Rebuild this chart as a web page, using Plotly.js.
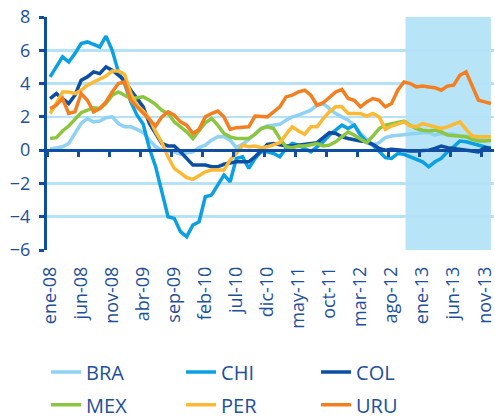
<!DOCTYPE html>
<html>
<head>
<meta charset="utf-8">
<script src="https://cdn.plot.ly/plotly-3.0.1.min.js"></script>
<style>
  html, body { margin: 0; padding: 0; background: #ffffff; }
  #chart { width: 495px; height: 419px; }
</style>
</head>
<body>
<div id="chart"></div>
<script>
// ---- Data ----
const monthNames = ['ene','feb','mar','abr','may','jun','jul','ago','sep','oct','nov','dic'];
const years = ['08','09','10','11','12','13'];
const months = years.flatMap(y => monthNames.map(m => m + '-' + y));

const tickLabels = ['ene-08','jun-08','nov-08','abr-09','sep-09','feb-10','jul-10','dic-10',
                    'may-11','oct-11','mar-12','ago-12','ene-13','jun-13','nov-13'];

const BRA = [0.05,0.1,0.2,0.4,1.0,1.6,1.9,1.7,1.75,1.95,2.0,1.6,1.4,1.4,1.25,1.05,0.6,0.2,0.0,-0.05,
             -0.1,-0.25,-0.2,-0.1,0.15,0.3,0.6,0.8,0.8,0.6,0.15,
             0.35,0.65,1.0,1.3,1.45,1.5,1.55,1.8,2.0,2.1,2.25,2.4,2.7,2.8,2.5,2.2,2.0,1.8,1.5,1.0,
             0.65,0.3,0.45,0.75,0.85,0.9,0.95,1.0,1.0,1.05,1.05,0.9,1.0,1.0,0.95,0.85,0.85,0.8,0.65,0.6,0.55];
const CHI = [4.4,5.0,5.6,5.3,5.8,6.4,6.5,6.35,6.2,6.85,6.0,4.7,4.0,2.9,2.1,1.55,0.1,-1.0,-2.4,-4.0,
             -4.1,-4.9,-5.2,-4.5,-4.3,-2.8,-2.7,-2.1,-1.5,-1.9,-0.5,-0.4,-1.1,
             -0.5,-0.1,-0.1,-0.2,-0.4,0.1,0.4,0.3,0.1,-0.1,0.2,0.5,0.9,1.2,1.5,1.3,1.5,0.9,0.5,0.3,
             -0.1,-0.45,-0.5,-0.2,-0.25,-0.4,-0.5,-0.7,-1.0,-0.7,-0.5,-0.1,0.2,0.55,0.5,0.4,0.25,0.15,0.1];
const COL = [3.1,3.4,3.1,2.8,3.3,4.2,4.4,4.7,4.6,5.0,4.8,4.5,4.2,3.6,3.1,2.6,1.6,1.0,0.4,0.25,
             0.25,-0.1,-0.5,-0.9,-0.9,-0.9,-1.0,-1.0,-0.85,-0.75,-0.7,
             -0.7,-0.7,-0.4,0.0,0.35,0.4,0.3,0.25,0.25,0.3,0.35,0.4,0.45,0.75,1.05,1.0,0.8,0.7,0.6,0.55,
             0.5,0.35,0.1,0.0,0.05,0.0,-0.05,-0.05,-0.05,-0.05,0.0,0.1,0.25,0.15,0.1,0.05,0.0,-0.1,-0.1,0.15,0.1];
const MEX = [0.7,0.75,1.15,1.45,1.85,2.25,2.4,2.55,2.5,2.8,3.3,3.5,3.3,3.1,3.15,3.2,3.0,2.75,2.4,2.2,
             1.7,1.4,1.1,0.7,1.15,1.65,1.9,1.5,1.0,0.8,0.7,
             0.7,0.7,0.95,1.3,1.4,1.3,0.7,0.2,0.15,0.25,0.25,0.35,0.4,0.25,0.3,0.5,0.8,1.1,0.9,0.7,
             0.45,0.85,1.3,1.5,1.6,1.7,1.75,1.5,1.3,1.2,1.15,1.2,1.1,0.9,0.85,0.85,0.8,0.65,0.55,0.55,0.6];
const PER = [2.2,2.8,3.5,3.5,3.4,3.6,3.9,4.1,4.25,4.45,4.75,4.75,4.55,3.4,2.7,2.35,1.9,1.1,0.45,-0.4,
             -1.1,-1.4,-1.65,-1.75,-1.55,-1.3,-1.2,-1.2,-1.2,-0.6,-0.2,
             0.3,0.2,0.25,0.15,0.2,0.3,0.45,0.95,1.4,1.15,0.95,1.4,1.4,1.9,2.3,2.6,2.6,2.2,2.2,2.2,
             2.05,2.2,2.0,1.25,1.45,1.6,1.7,1.45,1.4,1.6,1.5,1.35,1.3,1.4,1.55,1.7,1.25,0.85,0.8,0.8,0.8];
const URU = [2.5,2.7,3.1,2.2,2.3,3.4,3.0,2.3,2.5,2.9,3.5,4.0,4.1,3.0,2.6,2.2,1.8,1.45,2.0,2.3,
             2.1,1.7,1.5,1.0,1.25,2.0,2.2,2.35,2.0,1.25,1.35,
             1.35,1.4,2.05,2.0,2.0,2.3,2.6,3.2,3.3,3.5,3.6,3.3,2.7,2.85,3.2,3.5,3.65,3.1,3.0,2.6,
             2.9,3.1,3.0,2.6,2.8,3.6,4.1,4.0,3.8,3.85,3.8,3.75,3.6,3.85,3.9,4.5,4.7,3.9,3.0,2.9,2.8];

const seriesNames = ['BRA','CHI','COL','MEX','PER','URU'];
const seriesData = [BRA, CHI, COL, MEX, PER, URU];

// ---- Styles ----
const colors = ['#8fd2f3','#0aa0e1','#0c4ea2','#8cc63f','#fdb934','#f47f20'];
const legendOf = ['legend','legend','legend','legend2','legend2','legend2'];
const textColor = '#1d4f9c';
const axisColor = '#0f4ea0';
const gridColor = '#b5e2f7';
const fontFam = '"Open Sans", "Noto Sans", sans-serif';

const traces = seriesNames.map((name, k) => ({
  type: 'scatter',
  mode: 'lines',
  name: name,
  x: months,
  y: seriesData[k],
  xaxis: 'x',
  yaxis: 'y',
  legend: legendOf[k],
  line: { color: colors[k], width: 3.5 },
  hoverinfo: 'skip'
}));

const nCat = months.length;
const xr = [-0.5, nCat - 0.5];
const boundaryTicks = tickLabels.map(l => months.indexOf(l) - 0.5);
const yMin = -6, yMax = 8;

const legendCommon = {
  orientation: 'h',
  xref: 'container', yref: 'container',
  x: 0.093,
  xanchor: 'left', yanchor: 'middle',
  entrywidth: 90, entrywidthmode: 'pixels',
  font: { size: 20, color: textColor, family: fontFam },
  bgcolor: 'rgba(0,0,0,0)'
};

const layout = {
  width: 495,
  height: 419,
  margin: { l: 47, r: 1, t: 17, b: 169 },
  paper_bgcolor: '#ffffff',
  plot_bgcolor: '#ffffff',
  font: { family: fontFam, color: textColor },
  showlegend: true,
  xaxis: {
    type: 'category',
    range: xr,
    tickmode: 'array',
    tickvals: tickLabels,
    ticktext: tickLabels,
    tickangle: -90,
    ticks: '',
    showline: false,
    showgrid: false,
    zeroline: false,
    tickfont: { size: 18, color: textColor, family: fontFam },
    ticklabelstandoff: 12,
    fixedrange: true
  },
  xaxis2: {
    type: 'linear',
    overlaying: 'x',
    anchor: 'free',
    position: (0 - yMin) / (yMax - yMin),
    range: xr,
    tickmode: 'array',
    tickvals: boundaryTicks,
    showticklabels: false,
    ticks: 'outside',
    ticklen: 5,
    tickwidth: 3,
    tickcolor: axisColor,
    showline: true,
    linecolor: axisColor,
    linewidth: 3,
    showgrid: false,
    zeroline: false,
    layer: 'above traces'
  },
  yaxis: {
    range: [yMin, yMax],
    tickmode: 'linear',
    tick0: yMin,
    dtick: 2,
    showline: true,
    linecolor: axisColor,
    linewidth: 3,
    ticks: 'outside',
    ticklen: 5,
    tickwidth: 3,
    tickcolor: axisColor,
    showgrid: true,
    gridcolor: gridColor,
    gridwidth: 2.5,
    zeroline: false,
    tickfont: { size: 18, color: textColor, family: fontFam },
    ticklabelstandoff: 5,
    fixedrange: true
  },
  shapes: [{
    type: 'rect',
    xref: 'x2', yref: 'y',
    x0: 57.25, x1: 71,
    y0: yMin, y1: yMax,
    fillcolor: '#b7e4f7',
    line: { width: 0 },
    layer: 'below'
  }],
  legend: Object.assign({}, legendCommon, { y: 0.112 }),
  legend2: Object.assign({}, legendCommon, { y: 0.034 })
};

Plotly.newPlot('chart', traces, layout, { displayModeBar: false, staticPlot: true });
</script>
</body>
</html>
